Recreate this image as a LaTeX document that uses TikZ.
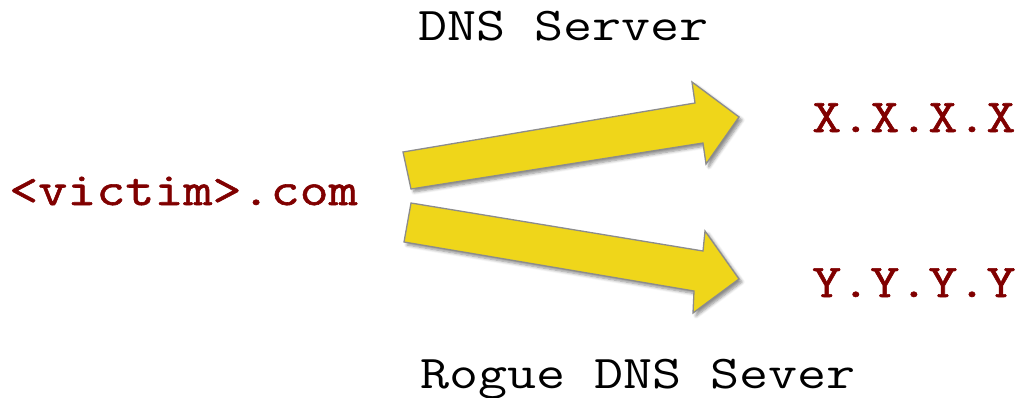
\documentclass[tikz,border=0pt]{standalone}
\usepackage{fontspec}
\newfontfamily\courfont{Latin Modern Mono}[FakeStretch=1.2]
\newfontfamily\courboldfont{Latin Modern Mono}[FakeStretch=1.2, FakeBold=1.2]
\usetikzlibrary{shadows.blur}
\definecolor{darkred}{HTML}{800000}
\definecolor{arrowyellow}{HTML}{EFD61A}
\definecolor{arrowedge}{HTML}{8C8C8C}
\tikzset{
  lbl/.style={anchor=base west, inner sep=0pt, font=\courfont\fontsize{47}{50}\selectfont, text=black},
  addr/.style={lbl, font=\courboldfont\fontsize{47}{50}\selectfont, text=darkred},
  bigarrow/.style={fill=arrowyellow, draw=arrowedge, line width=1.3pt, line join=miter,
    blur shadow={shadow xshift=3pt, shadow yshift=-3pt, shadow blur steps=6, shadow blur radius=3pt, shadow opacity=45}}
}
\begin{document}
\begin{tikzpicture}[x=1pt,y=1pt]
\useasboundingbox (0,0) rectangle (1016,397);
% labels
\node[lbl] (dns) at (418,356) {DNS Server};
\node[lbl] (rogue) at (420,9) {Rogue DNS Sever};
\node[addr] (victim) at (9,192) {<victim>.com};
\node[addr] (xaddr) at (812,265) {X.X.X.X};
\node[addr] (yaddr) at (812,100) {Y.Y.Y.Y};
% upper arrow
\coordinate (a1t1) at (403,245);
\coordinate (a1s1) at (695,294);
\coordinate (a1b1) at (692,315);
\coordinate (a1tip) at (739,280);
\coordinate (a1b2) at (706,233);
\coordinate (a1s2) at (703,254);
\coordinate (a1t2) at (411,208);
\draw[bigarrow] (a1t1) -- (a1s1) -- (a1b1) -- (a1tip) -- (a1b2) -- (a1s2) -- (a1t2) -- cycle;
% lower arrow
\coordinate (a2t1) at (411,194);
\coordinate (a2s1) at (703,146);
\coordinate (a2b1) at (705,166);
\coordinate (a2tip) at (739,118);
\coordinate (a2b2) at (693,84);
\coordinate (a2s2) at (694,106);
\coordinate (a2t2) at (404,155);
\draw[bigarrow] (a2t1) -- (a2s1) -- (a2b1) -- (a2tip) -- (a2b2) -- (a2s2) -- (a2t2) -- cycle;
\end{tikzpicture}
\end{document}
